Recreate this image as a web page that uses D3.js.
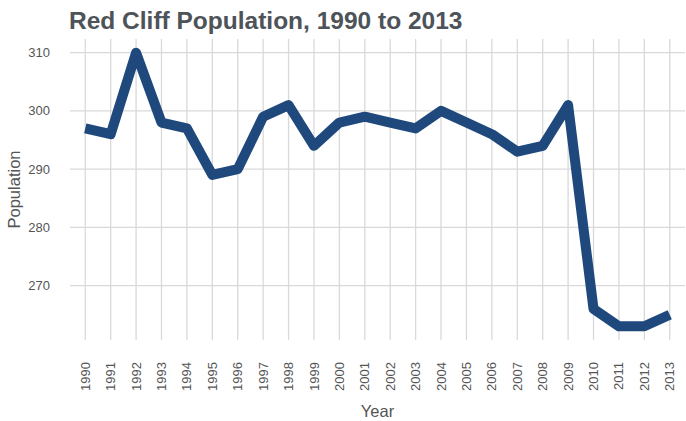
<!DOCTYPE html>
<html>
<head>
<meta charset="utf-8">
<script src="https://cdn.jsdelivr.net/npm/d3@7"></script>
<style>
  body { margin: 0; background: #fff; }
  text { font-family: "Liberation Sans", Arial, sans-serif; }
</style>
</head>
<body>
<svg id="chart" width="686" height="421"></svg>
<script>
// data
const years = ["1990","1991","1992","1993","1994","1995","1996","1997","1998","1999","2000","2001",
               "2002","2003","2004","2005","2006","2007","2008","2009","2010","2011","2012","2013"];
const population = [297, 296, 310, 298, 297, 289, 290, 299, 301, 294, 298, 299,
                    298, 297, 300, 298, 296, 293, 294, 301, 266, 263, 263, 265];
const yTicks = [270, 280, 290, 300, 310];

const svg = d3.select("#chart");
const width = 686, height = 421;
const margin = {top: 39, right: 1, bottom: 81, left: 70};

// discrete x axis with ggplot-like padding of 0.6 category on each side
const n = years.length;
const x = d3.scaleLinear()
    .domain([-0.6, n - 1 + 0.6])
    .range([margin.left, width - margin.right]);

const yMin = d3.min(population), yMax = d3.max(population);
const pad = (yMax - yMin) * 0.05;
const y = d3.scaleLinear()
    .domain([yMin - pad, yMax + pad])
    .range([height - margin.bottom, margin.top]);

const gridColor = "#d9d9d9";
const textColor = "#555555";

// grid
svg.append("g")
    .selectAll("line")
    .data(yTicks)
    .join("line")
    .attr("x1", margin.left).attr("x2", width - margin.right)
    .attr("y1", d => y(d)).attr("y2", d => y(d))
    .attr("stroke", gridColor).attr("stroke-width", 1.3);

svg.append("g")
    .selectAll("line")
    .data(years)
    .join("line")
    .attr("x1", (d, i) => x(i)).attr("x2", (d, i) => x(i))
    .attr("y1", margin.top).attr("y2", height - margin.bottom)
    .attr("stroke", gridColor).attr("stroke-width", 1.3);

// y axis labels
svg.append("g")
    .selectAll("text")
    .data(yTicks)
    .join("text")
    .attr("x", 50)
    .attr("y", d => y(d))
    .attr("dy", "0.35em")
    .attr("text-anchor", "end")
    .attr("font-size", 13)
    .attr("fill", textColor)
    .text(d => d);

// x axis labels, rotated
svg.append("g")
    .selectAll("text")
    .data(years)
    .join("text")
    .attr("transform", (d, i) => `translate(${x(i)},${362}) rotate(-90)`)
    .attr("dy", "0.35em")
    .attr("text-anchor", "end")
    .attr("font-size", 13)
    .attr("fill", textColor)
    .text(d => d);

// the line
const line = d3.line()
    .x((d, i) => x(i))
    .y(d => y(d));

svg.append("path")
    .datum(population)
    .attr("d", line)
    .attr("fill", "none")
    .attr("stroke", "#1f497d")
    .attr("stroke-width", 10)
    .attr("stroke-linejoin", "round")
    .attr("stroke-linecap", "butt");

// axis titles
svg.append("text")
    .attr("x", (margin.left + width - margin.right) / 2)
    .attr("y", 417)
    .attr("text-anchor", "middle")
    .attr("font-size", 16.5)
    .attr("fill", textColor)
    .text("Year");

svg.append("text")
    .attr("transform", `translate(20,${(margin.top + height - margin.bottom) / 2}) rotate(-90)`)
    .attr("text-anchor", "middle")
    .attr("font-size", 16.5)
    .attr("fill", textColor)
    .text("Population");

// title
svg.append("text")
    .attr("x", 69)
    .attr("y", 29)
    .attr("font-size", 24.5)
    .attr("font-weight", "bold")
    .attr("fill", "#4d5358")
    .text("Red Cliff Population, 1990 to 2013");
</script>
</body>
</html>
